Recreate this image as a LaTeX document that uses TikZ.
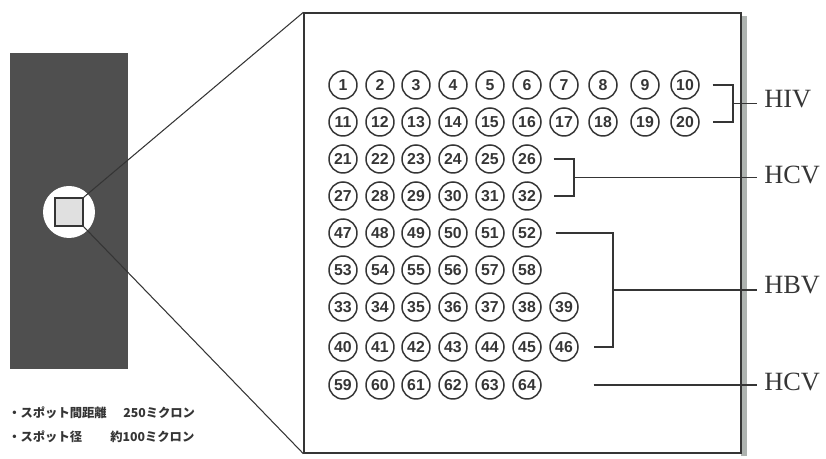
\documentclass[tikz,border=0pt]{standalone}
\usepackage{fontspec}
\setmainfont{Liberation Serif}
\setsansfont{Liberation Sans}
\newfontfamily\jpfont{Noto Sans CJK JP}
\usetikzlibrary{calc}
\definecolor{chip}{HTML}{4F4F4F}
\definecolor{rim}{HTML}{353535}
\definecolor{edge}{HTML}{AEB3B0}

\begin{document}
\begin{tikzpicture}[x=0.02cm,y=-0.02cm,
  spot/.style={circle,draw=rim,line width=0.85pt,minimum size=0.56cm,inner sep=0pt,
    font=\sffamily\bfseries\fontsize{9}{9}\selectfont,text=rim},
  bracket/.style={draw=rim,line width=0.9pt},
  virus/.style={font=\fontsize{15}{16}\selectfont,anchor=west,inner sep=4pt,text=rim},
  note/.style={font=\jpfont\bfseries\fontsize{7}{8}\selectfont,anchor=west,inner sep=0pt,text=rim}]
  \useasboundingbox (0,0) rectangle (826,459);

  % chip
  \fill[chip] (10,53) rectangle (128,369);
  \fill[white] (69,212) circle (26);
  \node[draw=rim,fill=black!12,line width=0.9pt,minimum size=0.56cm,inner sep=0pt] (win) at (69,212) {};

  % enlarged panel
  \fill[edge] (741,16) rectangle (747,456);
  \node[draw=rim,fill=white,line width=0.8pt,minimum width=8.74cm,minimum height=8.8cm,inner sep=0pt] (panel) at (522.5,233) {};
  \draw[rim,line width=0.6pt] (win.north east) -- (panel.north west);
  \draw[rim,line width=0.6pt] (win.south east) -- (panel.south west);

  % spots, row by row
  \foreach \y/\first/\cnt in {85/1/10,122/11/10,159/21/6,196/27/6,233/47/6,270/53/6,307/33/7,347/40/7,385/59/6} {
    \foreach \k in {1,...,\cnt} {
      \pgfmathtruncatemacro{\num}{\first+\k-1}
      \pgfmathsetmacro{\xx}{{343,380,416,453,490,527,564,603,645,685}[\k-1]}
      \node[spot] (s\num) at (\xx,\y) {\num};
    }
  }

  % labels
  \node[virus] (hiv) at (757,99) {HIV};
  \node[virus] (hcva) at (757,175) {HCV};
  \node[virus] (hbv) at (757,285) {HBV};
  \node[virus] (hcvb) at (757,382) {HCV};

  % brackets
  \draw[bracket] ($(s10.east)+(13,0)$) -| ($(s20.east)+(33,0)$) -- ($(s20.east)+(13,0)$);
  \coordinate (hivmid) at ($(s10.east)!0.5!(s20.east)+(33,0)$);
  \draw[bracket] (hivmid) -- (hivmid -| hiv.west);

  \draw[bracket] ($(s26.east)+(12,0)$) -| ($(s32.east)+(32,0)$) -- ($(s32.east)+(12,0)$);
  \coordinate (hcvmid) at ($(s26.east)!0.5!(s32.east)+(32,0)$);
  \draw[bracket] (hcvmid) -- (hcvmid -| hcva.west);

  \draw[bracket] ($(s52.east)+(14,0)$) -| ($(s52.east |- s46.east)+(71,0)$) -- ($(s46.east)+(15,0)$);
  \coordinate (hbvmid) at ($(s52.east)!0.5!(s52.east |- s46.east)+(71,0)$);
  \draw[bracket] (hbvmid) -- (hbvmid -| hbv.west);

  \draw[bracket] ($(s64.east)+(52,0)$) -- ($(s64.east -| hcvb.west)$);

  % notes
  \node[note] (gapkey) at (8,413) {・スポット間距離};
  \node[note] (gapval) at (123,413) {250ミクロン};
  \node[note] (sizekey) at (8,437) {・スポット径};
  \node[note] (sizeval) at (110,437) {約100ミクロン};
\end{tikzpicture}
\end{document}
